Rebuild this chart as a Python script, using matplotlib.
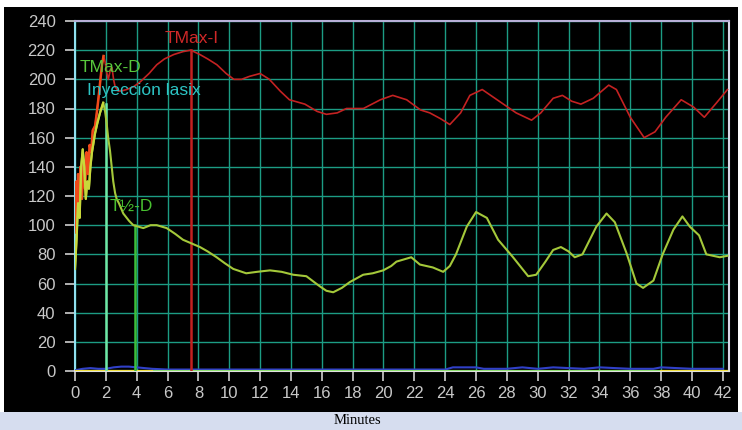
import matplotlib
matplotlib.use("Agg")
import matplotlib.pyplot as plt
from matplotlib.patches import Rectangle

# ---- data ----
red_x = [0.05, 0.1, 0.15, 0.2, 0.3, 0.35, 0.45, 0.55, 0.65, 0.75, 0.85, 0.95, 1.05, 1.15, 1.3, 1.4,
         1.5, 1.62, 1.75, 1.85, 1.95, 2.05, 2.16, 2.3, 2.4, 2.5, 2.6, 2.8, 3.0, 3.35, 3.8, 4.2, 4.8,
         5.3, 5.8, 6.4, 7.0, 7.5, 8.1, 8.6, 9.2, 9.8, 10.3, 10.8, 11.3, 12.0, 12.6, 13.3, 13.9, 14.9,
         15.7, 16.3, 17.0, 17.6, 18.7, 19.8, 20.6, 21.5, 22.4, 23.0, 23.7, 24.3, 25.0, 25.6, 26.4,
         27.5, 28.6, 29.6, 30.2, 31.0, 31.6, 32.2, 32.8, 33.6, 34.6, 35.1, 36.0, 36.9, 37.6, 38.3,
         39.3, 40.1, 40.8, 41.6, 42.3]
red_y = [95, 130, 105, 135, 120, 140, 118, 145, 125, 150, 135, 155, 150, 165, 168, 176,
         185, 197, 210, 216, 212, 205, 200, 207, 208, 200, 195, 192, 192, 193, 195, 198, 204,
         210, 214, 217, 219, 220, 217, 214, 210, 204, 200, 200, 202, 204, 200, 192, 186, 183,
         178, 176, 177, 180, 180, 186, 189, 186, 179, 177, 173, 169, 177, 189, 193,
         185, 177, 172, 177, 187, 189, 185, 183, 187, 196, 193, 174, 160, 164, 174,
         186, 181, 174, 184, 193]

green_x = [0.0, 0.1, 0.2, 0.3, 0.4, 0.5, 0.6, 0.7, 0.8, 0.9, 1.0, 1.1, 1.3, 1.45, 1.62, 1.83, 1.95,
           2.05, 2.15, 2.27, 2.38, 2.48, 2.6, 2.7, 2.85, 3.13, 3.5, 3.78, 4.1, 4.43, 4.9, 5.3, 5.94,
           6.5, 7.0, 8.1, 8.6, 9.18, 9.7, 10.26, 11.1, 11.8, 12.64, 13.4, 14.15, 15.0, 15.5, 15.88,
           16.3, 16.74, 17.3, 17.82, 18.68, 19.3, 19.98, 20.5, 20.84, 21.8, 22.36, 23.2, 23.87,
           24.3, 24.7, 25.4, 26.0, 26.7, 27.43, 28.4, 29.38, 29.9, 30.5, 31.0, 31.5, 32.0, 32.4,
           32.9, 33.8, 34.46, 35.0, 35.75, 36.4, 36.83, 37.5, 38.1, 38.8, 39.38, 39.86, 40.46,
           40.93, 41.8, 42.3]
green_y = [70, 90, 115, 105, 140, 152, 140, 118, 130, 125, 140, 150, 163, 170, 177, 184, 178,
           170, 160, 151, 140, 130, 122, 118, 115, 108, 103, 100, 99, 98, 100, 100, 98,
           94, 90, 85, 82, 78, 74, 70, 67, 68, 69, 68, 66, 65, 61, 58,
           55, 54, 57, 61, 66, 67, 69, 72, 75, 78, 73, 71, 68,
           72, 80, 99, 109, 105, 90, 78, 65, 66, 75, 83, 85, 82, 78,
           80, 99, 108, 102, 81, 60, 57, 62, 80, 97, 106, 99, 93,
           80, 78, 79]

blue_x = [0, 0.5, 1.0, 1.5, 2.0, 2.5, 3.0, 3.5, 4.0, 4.5, 5.0, 6.0, 12, 24, 24.5, 26, 26.5, 28, 29,
          30, 31, 33, 34, 36, 37.5, 38, 40, 42]
blue_y = [0.5, 1.5, 2.0, 1.5, 1.5, 2.5, 3.0, 3.0, 2.5, 2.0, 1.5, 1.0, 1.0, 1.0, 2.5, 2.5, 1.5,
          1.5, 2.5, 1.5, 2.5, 1.5, 2.5, 1.5, 1.5, 2.5, 1.5, 1.5]

markers_x = [2.0, 3.9, 7.5]
markers_top = [183, 100, 220]
markers_col = ['#6fe8a6', '#3cc03c', '#c42020']

labels = ["TMax-I", "TMax-D", "Inyección lasix", "T½-D"]
labels_x = [5.8, 0.3, 0.75, 2.25]
labels_y = [228, 208, 192, 113]
labels_col = ['#d02828', '#58c83c', '#2cc4c4', '#48c030']

x_ticks = list(range(0, 43, 2))
y_ticks = list(range(0, 241, 20))

# ---- figure ----
W, H = 742, 430
fig = plt.figure(figsize=(W / 100, H / 100), dpi=100, facecolor='black')

# frame: bottom light strip, white top/left/right borders
fig.patches.append(Rectangle((0, 0), 1, 18 / H, transform=fig.transFigure,
                             facecolor='#d6ddef', edgecolor='none', zorder=0))
fig.patches.append(Rectangle((0, 1 - 7 / H), 1, 7 / H, transform=fig.transFigure,
                             facecolor='white', edgecolor='none', zorder=0))
fig.patches.append(Rectangle((0, 18 / H), 4 / W, 1, transform=fig.transFigure,
                             facecolor='white', edgecolor='none', zorder=0))
fig.patches.append(Rectangle((1 - 4 / W, 18 / H), 4 / W, 1, transform=fig.transFigure,
                             facecolor='white', edgecolor='none', zorder=0))
fig.text(357 / W, 3 / H, "Minutes", ha='center', va='bottom', fontsize=10.5,
         family='Liberation Serif', color='black')

ax = fig.add_axes([75 / W, (H - 371) / H, (729 - 75) / W, (371 - 21) / H])
ax.set_facecolor('black')
ax.set_xlim(0, 42.4)
ax.set_ylim(0, 240)

ax.set_xticks(x_ticks)
ax.set_yticks(y_ticks)
ax.grid(True, color='#1c9c84', linewidth=1.0)
ax.set_axisbelow(True)
ax.tick_params(colors='#d0d0d0', labelcolor='#c8c8c8', length=7, width=1.2,
               labelsize=12)
ax.tick_params(axis='y', pad=7)
ax.tick_params(axis='x', pad=4)
for lab in ax.get_xticklabels() + ax.get_yticklabels():
    lab.set_family('Liberation Sans')

ax.spines['top'].set_color('#b8b0d8')
ax.spines['left'].set_color('#8fe0f0')
ax.spines['right'].set_color('#d8d8e8')
ax.spines['bottom'].set_color('#e0e0e0')
for s in ax.spines.values():
    s.set_linewidth(1.5)

# baselines
ax.plot(blue_x, blue_y, color='#3040c8', linewidth=1.5, zorder=3)
ax.plot([0, 42.3], [0, 0], color='#8fe070', linewidth=1.5, zorder=3)
ax.plot([0, 5], [0, 0], color='#f0e040', linewidth=1.5, zorder=3)
ax.plot([38, 42.3], [0, 0], color='#f0e040', linewidth=1.5, zorder=3)

# marker lines
for mx, mt, mc in zip(markers_x, markers_top, markers_col):
    ax.plot([mx, mx], [0, mt], color=mc, linewidth=1.8, zorder=4)

# curves
ax.plot(red_x, red_y, color='#c42222', linewidth=1.2, zorder=5)
ax.plot(red_x[:20], red_y[:20], color='#f04a1a', linewidth=1.8, zorder=5)
ax.plot(green_x, green_y, color='#a4c83a', linewidth=1.5, zorder=6)
ax.plot(green_x[:16], green_y[:16], color='#c8d83a', linewidth=1.6, zorder=6)

for t, tx, ty, tc in zip(labels, labels_x, labels_y, labels_col):
    ax.text(tx, ty, t, color=tc, fontsize=12.5, family='Liberation Sans',
            ha='left', va='center', zorder=7)

fig.savefig('out.png', dpi=100, facecolor=fig.get_facecolor())
